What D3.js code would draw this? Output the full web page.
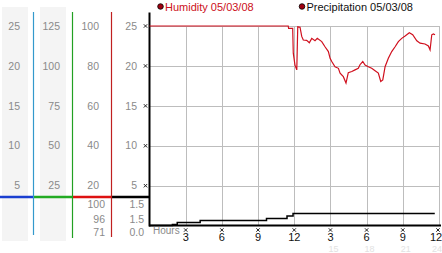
<!DOCTYPE html>
<html>
<head>
<meta charset="utf-8">
<script src="https://cdn.jsdelivr.net/npm/d3@7"></script>
<style>
  body { margin: 0; background: #fff; }
  text { font-family: 'Liberation Sans', Arial, sans-serif; }
</style>
</head>
<body>
<div id="chart"></div>
<script>
// humidity readings (hours, value)
const humHours = [0, 11.5, 11.53, 11.87, 11.92, 12.06, 12.21, 12.29, 12.48, 12.62, 12.75, 13.03, 13.25, 13.45, 13.72, 13.91, 14.28, 14.55, 14.83, 14.97, 15.11, 15.38, 15.66, 15.8, 16.07, 16.29, 16.48, 16.77, 17.04, 17.31, 17.45, 17.68, 17.87, 18.14, 18.42, 18.7, 18.97, 19.17, 19.34, 19.53, 19.8, 20.08, 20.36, 20.63, 20.91, 21.19, 21.54, 21.82, 22.16, 22.43, 22.84, 23.12, 23.26, 23.4, 23.53, 23.67]
const humValues = [25, 25, 24.7, 24.7, 21.6, 20.1, 19.5, 24.9, 24.85, 23.7, 23.25, 23.2, 22.9, 23.45, 23.15, 23.45, 23.05, 22.4, 21.8, 20.95, 20.55, 19.9, 19.7, 19.1, 18.65, 17.85, 19.15, 19.3, 19.5, 19.7, 20.15, 20.55, 20.1, 19.9, 19.7, 19.4, 19.1, 18.05, 18.25, 19.9, 20.95, 21.8, 22.4, 23.05, 23.45, 23.75, 24.15, 23.9, 23.15, 22.85, 22.75, 22.5, 22.0, 23.9, 24.0, 23.9]

// precipitation steps (hours, value)
const precipHours = [0, 1.9, 2.3, 4.2, 9.7, 11.4, 11.9, 23.65]
const precipValues = [0, 0.15, 0.4, 0.65, 0.9, 1.2, 1.5, 1.5]

// left side scales
const col1Ticks = [5, 10, 15, 20, 25]
const col2Ticks = [25, 50, 75, 100, 125]
const col3Ticks = [20, 40, 60, 80, 100]
const col4Ticks = [5, 10, 15, 20, 25]
const col3Readings = ['100', '96', '71']
const col4Readings = ['1.5', '1.5', '0.0']

const hourTicks = [3, 6, 9, 12, 15, 18, 21, 24]

const width = 442
const height = 253

const svg = d3.select('#chart')
  .append('svg')
  .attr('width', width)
  .attr('height', height)

const xScale = d3.scaleLinear().domain([0, 24]).range([149.5, 439])
const yScale = d3.scaleLinear().domain([0, 25]).range([225.6, 26])

// left columns
let columns = [
  { ticks: col1Ticks, max: 25, right: 20, bg: [2, 28], axis: '#1a3fd0', x0: 0, x1: 33 },
  { ticks: col2Ticks, max: 125, right: 60, bg: [40, 66], axis: '#22aa22', x0: 33, x1: 72 },
  { ticks: col3Ticks, max: 100, right: 99, bg: null, axis: '#dd1111', x0: 72, x1: 111 },
  { ticks: col4Ticks, max: 25, right: 137, bg: null, axis: '#000', x0: 111, x1: 149 }
]

columns.forEach(col => {
  let s = d3.scaleLinear().domain([0, col.max]).range(yScale.range())
  if (col.bg) {
    svg.append('rect')
      .attr('x', col.bg[0])
      .attr('y', 7)
      .attr('width', col.bg[1] - col.bg[0])
      .attr('height', 234)
      .attr('fill', '#f4f4f4')
  }
  svg.selectAll(null)
    .data(col.ticks)
    .enter()
    .append('text')
    .attr('x', col.right)
    .attr('y', d => s(d))
    .attr('dy', '0.35em')
    .attr('text-anchor', 'end')
    .attr('font-size', 10.5)
    .attr('fill', '#8a8a8a')
    .text(d => d)
  svg.append('line')
    .attr('x1', col.x0)
    .attr('x2', col.x1)
    .attr('y1', 197)
    .attr('y2', 197)
    .attr('stroke', col.axis)
    .attr('stroke-width', 2.5)
})

// column dividers
let dividers = [
  { x: 33.5, y2: 235, color: '#3399cc' },
  { x: 72.5, y2: 238, color: '#22a022' },
  { x: 111.5, y2: 237, color: '#c02020' }
]
svg.selectAll('.divider')
  .data(dividers)
  .enter()
  .append('line')
  .attr('class', 'divider')
  .attr('x1', d => d.x)
  .attr('x2', d => d.x)
  .attr('y1', 12)
  .attr('y2', d => d.y2)
  .attr('stroke', d => d.color)
  .attr('stroke-width', 1.2)

// current/max/min readings
let readingY = [204, 219, 232.5]
svg.selectAll('.reading3')
  .data(col3Readings)
  .enter()
  .append('text')
  .attr('x', 105)
  .attr('y', (d, i) => readingY[i])
  .attr('dy', '0.35em')
  .attr('text-anchor', 'end')
  .attr('font-size', 10.5)
  .attr('fill', '#8a8a8a')
  .text(d => d)
svg.selectAll('.reading4')
  .data(col4Readings)
  .enter()
  .append('text')
  .attr('x', 144)
  .attr('y', (d, i) => readingY[i])
  .attr('dy', '0.35em')
  .attr('text-anchor', 'end')
  .attr('font-size', 10.5)
  .attr('fill', '#8a8a8a')
  .text(d => d)

// grid
svg.selectAll('.hgrid')
  .data(col4Ticks)
  .enter()
  .append('line')
  .attr('x1', xScale(0))
  .attr('x2', xScale(24))
  .attr('y1', d => Math.round(yScale(d)) + 0.5)
  .attr('y2', d => Math.round(yScale(d)) + 0.5)
  .attr('stroke', '#bdbdbd')

svg.selectAll('.vgrid')
  .data(hourTicks)
  .enter()
  .append('line')
  .attr('x1', d => Math.round(xScale(d)) + 0.5)
  .attr('x2', d => Math.round(xScale(d)) + 0.5)
  .attr('y1', yScale(25))
  .attr('y2', yScale(0))
  .attr('stroke', '#bdbdbd')

// axes
svg.append('line')
  .attr('x1', 149.5).attr('x2', 149.5)
  .attr('y1', 12.5).attr('y2', 226.5)
  .attr('stroke', '#000').attr('stroke-width', 2)
svg.append('line')
  .attr('x1', 149).attr('x2', 441)
  .attr('y1', 225.5).attr('y2', 225.5)
  .attr('stroke', '#000').attr('stroke-width', 1.8)

let mark = d3.symbol(d3.symbolTimes, 9)

svg.selectAll('.ymark')
  .data(col4Ticks)
  .enter()
  .append('path')
  .attr('d', mark)
  .attr('stroke', '#222')
  .attr('fill', 'none')
  .attr('transform', d => `translate(145.5,${yScale(d)})`)

svg.selectAll('.xmark')
  .data(hourTicks)
  .enter()
  .append('path')
  .attr('d', mark)
  .attr('stroke', '#222')
  .attr('fill', 'none')
  .attr('transform', d => `translate(${Math.min(xScale(d), 438)},230)`)

svg.selectAll('.xlabel')
  .data(hourTicks)
  .enter()
  .append('text')
  .attr('x', d => Math.min(xScale(d), 436))
  .attr('y', 241)
  .attr('text-anchor', 'middle')
  .attr('font-size', 11)
  .attr('fill', '#111')
  .text(d => (d > 12 ? d - 12 : d))

svg.selectAll('.xlabel24')
  .data(hourTicks.filter(d => d > 12))
  .enter()
  .append('text')
  .attr('x', d => Math.min(xScale(d) + 3, 437))
  .attr('y', 252)
  .attr('text-anchor', 'middle')
  .attr('font-size', 9)
  .attr('fill', '#e2e2e2')
  .text(d => d)

svg.append('text')
  .attr('x', 153)
  .attr('y', 234)
  .attr('font-size', 10)
  .attr('fill', '#8a8a8a')
  .text('Hours')

// series
let humidity = humHours.map((h, i) => ({ h: h, v: humValues[i] }))
let precip = precipHours.map((h, i) => ({ h: h, v: precipValues[i] }))

svg.append('path')
  .datum(precip)
  .attr('fill', 'none')
  .attr('stroke', '#000')
  .attr('stroke-width', 1.5)
  .attr('d', d3.line().x(d => xScale(d.h)).y(d => yScale(d.v)).curve(d3.curveStepAfter))

svg.append('path')
  .datum(humidity)
  .attr('fill', 'none')
  .attr('stroke', '#d0101e')
  .attr('stroke-width', 1.2)
  .attr('d', d3.line().x(d => xScale(d.h)).y(d => yScale(d.v)))

// legend
let legend = [
  { name: 'Humidity 05/03/08', x: 160.5, color: '#cc1020' },
  { name: 'Precipitation 05/03/08', x: 302, color: '#111' }
]
svg.selectAll('.legend-dot')
  .data(legend)
  .enter()
  .append('circle')
  .attr('cx', d => d.x)
  .attr('cy', 6.5)
  .attr('r', 2.8)
  .attr('fill', '#a00010')
  .attr('stroke', '#000')
  .attr('stroke-width', 0.8)
svg.selectAll('.legend-text')
  .data(legend)
  .enter()
  .append('text')
  .attr('x', d => d.x + 4.5)
  .attr('y', 10.5)
  .attr('font-size', 11)
  .attr('fill', d => d.color)
  .text(d => d.name)
</script>
</body>
</html>
